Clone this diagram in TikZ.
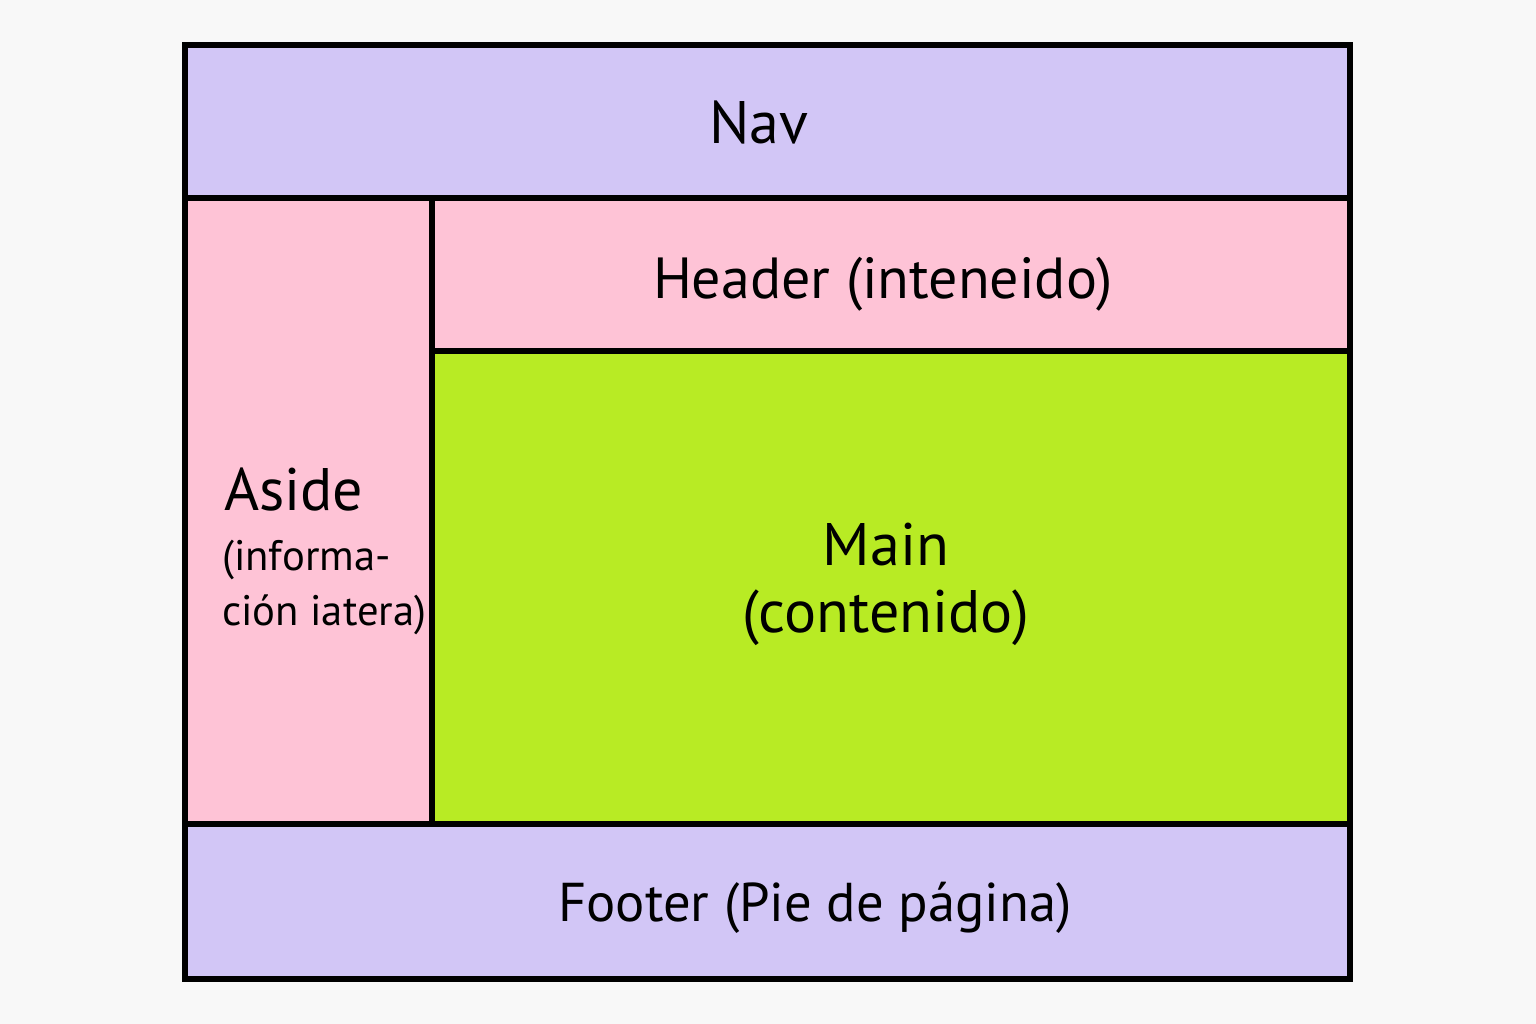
\documentclass[tikz,border=0pt]{standalone}
\usepackage{fontspec}
\setmainfont{PT Sans}
\definecolor{bgc}{HTML}{F8F8F8}
\definecolor{lav}{HTML}{D2C6F6}
\definecolor{pinkc}{HTML}{FEC3D6}
\definecolor{greenc}{HTML}{B8EB24}
\begin{document}
\begin{tikzpicture}[x=0.75pt,y=-0.75pt,
  region/.style={draw=black,line width=5.5pt*0.75},
  big/.style={font=\fontsize{45}{50}\selectfont,inner sep=0pt,anchor=base},
  small/.style={font=\fontsize{32}{36}\selectfont,inner sep=0pt,anchor=base west}]
\fill[bgc] (0,0) rectangle (1536,1024);
\useasboundingbox (0,0) rectangle (1536,1024);
\fill[lav] (185,45) rectangle (1350,198);
\fill[pinkc] (185,198) rectangle (432,824);
\fill[pinkc] (432,198) rectangle (1350,351);
\fill[greenc] (432,351) rectangle (1350,824);
\fill[lav] (185,824) rectangle (1350,979);
\coordinate (nl) at (185,198); \coordinate (nr) at (1350,198);
\coordinate (fl) at (185,824); \coordinate (fr) at (1350,824);
\coordinate (at) at (432,198); \coordinate (ab) at (432,824);
\coordinate (hl) at (432,351); \coordinate (hr) at (1350,351);
\draw[region] (nl) -- (nr);
\draw[region] (fl) -- (fr);
\draw[region] (at) -- (ab);
\draw[region] (hl) -- (hr);
\draw[draw=black,line width=6.5pt*0.75] (185,45) rectangle (1350,979);
\node[big] (nav) at (759,143) {Nav};
\node[big,font=\fontsize{43.5}{50}\selectfont] (header) at (883,298) {Header (inteneido)};
\node[big] (main) at (886,565) {Main};
\node[big] (cont) at (886,632) {(contenido)};
\node[big,anchor=base west] (aside) at (224,510) {Aside};
\node[small] (asub1) at (222,570) {(informa-};
\node[small] (asub2) at (222,625) {ción iatera)};
\node[big,font=\fontsize{41}{50}\selectfont] (footer) at (815,921) {Footer (Pie de página)};
\end{tikzpicture}
\end{document}
